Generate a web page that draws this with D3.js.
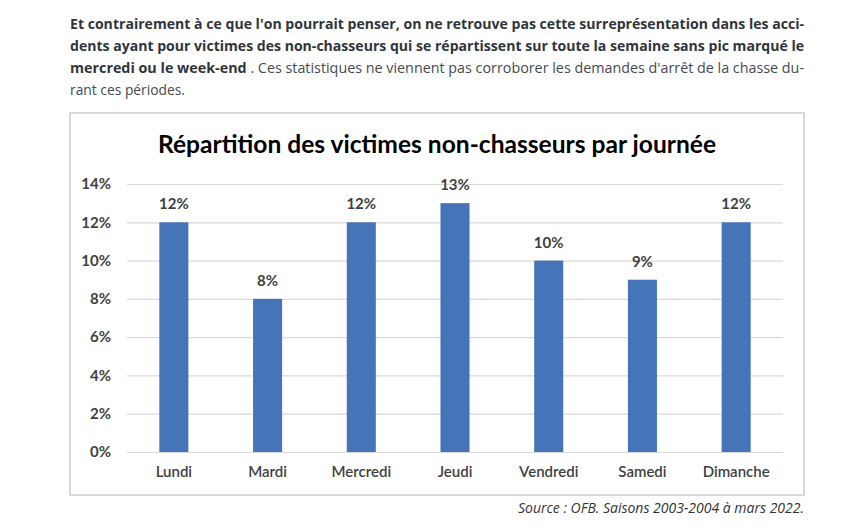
<!DOCTYPE html>
<html>
<head>
<meta charset="utf-8">
<script src="https://cdn.jsdelivr.net/npm/d3@7"></script>
<style>
  body { margin: 0; background: #fff; }
  svg { display: block; }
</style>
</head>
<body>
<div id="chart"></div>
<script>
// data
const days = ["Lundi", "Mardi", "Mercredi", "Jeudi", "Vendredi", "Samedi", "Dimanche"]
const shares = [12, 8, 12, 13, 10, 9, 12]
const yTicks = [0, 2, 4, 6, 8, 10, 12, 14]

const chartTitle = "Répartition des victimes non-chasseurs par journée"
const sourceNote = "Source : OFB. Saisons 2003-2004 à mars 2022."

const width = 849, height = 531

const svg = d3.select("#chart").append("svg")
    .attr("width", width)
    .attr("height", height)

/*
    intro paragraph (justified, condensed)
*/
const para = [
    [{ t: "Et contrairement à ce que l'on pourrait penser, on ne retrouve pas cette surreprésentation dans les acci-", b: true }],
    [{ t: "dents ayant pour victimes des non-chasseurs qui se répartissent sur toute la semaine sans pic marqué le", b: true }],
    [{ t: "mercredi ou le week-end", b: true }, { t: " . Ces statistiques ne viennent pas corroborer les demandes d'arrêt de la chasse du-", b: false }],
    [{ t: "rant ces périodes.", b: false }]
]
const paraWidths = [734, 734, 734, 115]

para.forEach((line, i) => {
    const txt = svg.append("text")
        .attr("x", 70)
        .attr("y", 29 + i * 22)
        .attr("textLength", paraWidths[i])
        .attr("lengthAdjust", "spacingAndGlyphs")
        .style("font-family", "'Open Sans'")
        .style("font-size", "14px")
        .style("fill", "#333a40")
    line.forEach(seg => {
        txt.append("tspan")
            .style("font-weight", seg.b ? "bold" : "normal")
            .style("fill", seg.b ? "#2f353b" : "#444a50")
            .text(seg.t)
    })
})

// chart frame
svg.append("rect")
    .attr("x", 70)
    .attr("y", 113)
    .attr("width", 734)
    .attr("height", 382)
    .attr("fill", "#fff")
    .attr("stroke", "#d9d9d9")
    .attr("stroke-width", 2)

svg.append("text")
    .attr("x", 437)
    .attr("y", 153)
    .attr("text-anchor", "middle")
    .attr("textLength", 558)
    .attr("lengthAdjust", "spacingAndGlyphs")
    .style("font-family", "Lato")
    .style("font-weight", "bold")
    .style("font-size", "24px")
    .style("fill", "#000")
    .text(chartTitle)

const margin = { top: 184, left: 127, right: 66, bottom: 79 }
const plotW = width - margin.left - margin.right
const plotH = height - margin.top - margin.bottom

const g = svg.append("g")
    .attr("transform", `translate(${margin.left},${margin.top})`)

const x = d3.scaleBand()
    .domain(days)
    .range([0, plotW])
    .paddingInner(0.69)
    .paddingOuter(0.345)

const y = d3.scaleLinear()
    .domain([0, 14])
    .range([plotH, 0])

// gridlines + y labels
g.append("g")
    .call(d3.axisLeft(y).tickValues(yTicks).tickSize(-plotW).tickPadding(16).tickFormat(d => d + "%"))
    .call(a => a.select(".domain").remove())
    .call(a => a.selectAll(".tick line").attr("stroke", "#d9d9d9").attr("stroke-width", 1.2))
    .call(a => a.selectAll(".tick text")
        .style("font-family", "Lato")
        .style("font-weight", "bold")
        .style("font-size", "15px")
        .style("fill", "#3f3f3f"))

// x labels
g.append("g")
    .attr("transform", `translate(0,${plotH})`)
    .call(d3.axisBottom(x).tickSize(0).tickPadding(14))
    .call(a => a.select(".domain").remove())
    .call(a => a.selectAll(".tick text")
        .style("font-family", "Lato")
        .style("font-weight", "600")
        .style("font-size", "15px")
        .style("fill", "#3f3f3f"))

const data = days.map((d, i) => ({ day: d, value: shares[i] }))

g.selectAll(".bar")
    .data(data)
    .enter()
    .append("rect")
    .attr("class", "bar")
    .attr("x", d => x(d.day))
    .attr("y", d => y(d.value))
    .attr("width", x.bandwidth())
    .attr("height", d => plotH - y(d.value))
    .attr("fill", "#4674b8")

g.selectAll(".lbl")
    .data(data)
    .enter()
    .append("text")
    .attr("class", "lbl")
    .attr("x", d => x(d.day) + x.bandwidth() / 2)
    .attr("y", d => y(d.value) - 13)
    .attr("text-anchor", "middle")
    .style("font-family", "Lato")
    .style("font-weight", "bold")
    .style("font-size", "15px")
    .style("fill", "#3f3f3f")
    .text(d => d.value + "%")

// source note
svg.append("text")
    .attr("x", 804)
    .attr("y", 513)
    .attr("text-anchor", "end")
    .attr("textLength", 286)
    .attr("lengthAdjust", "spacingAndGlyphs")
    .style("font-family", "'Open Sans'")
    .style("font-style", "italic")
    .style("font-size", "14px")
    .style("fill", "#333")
    .text(sourceNote)
</script>
</body>
</html>
